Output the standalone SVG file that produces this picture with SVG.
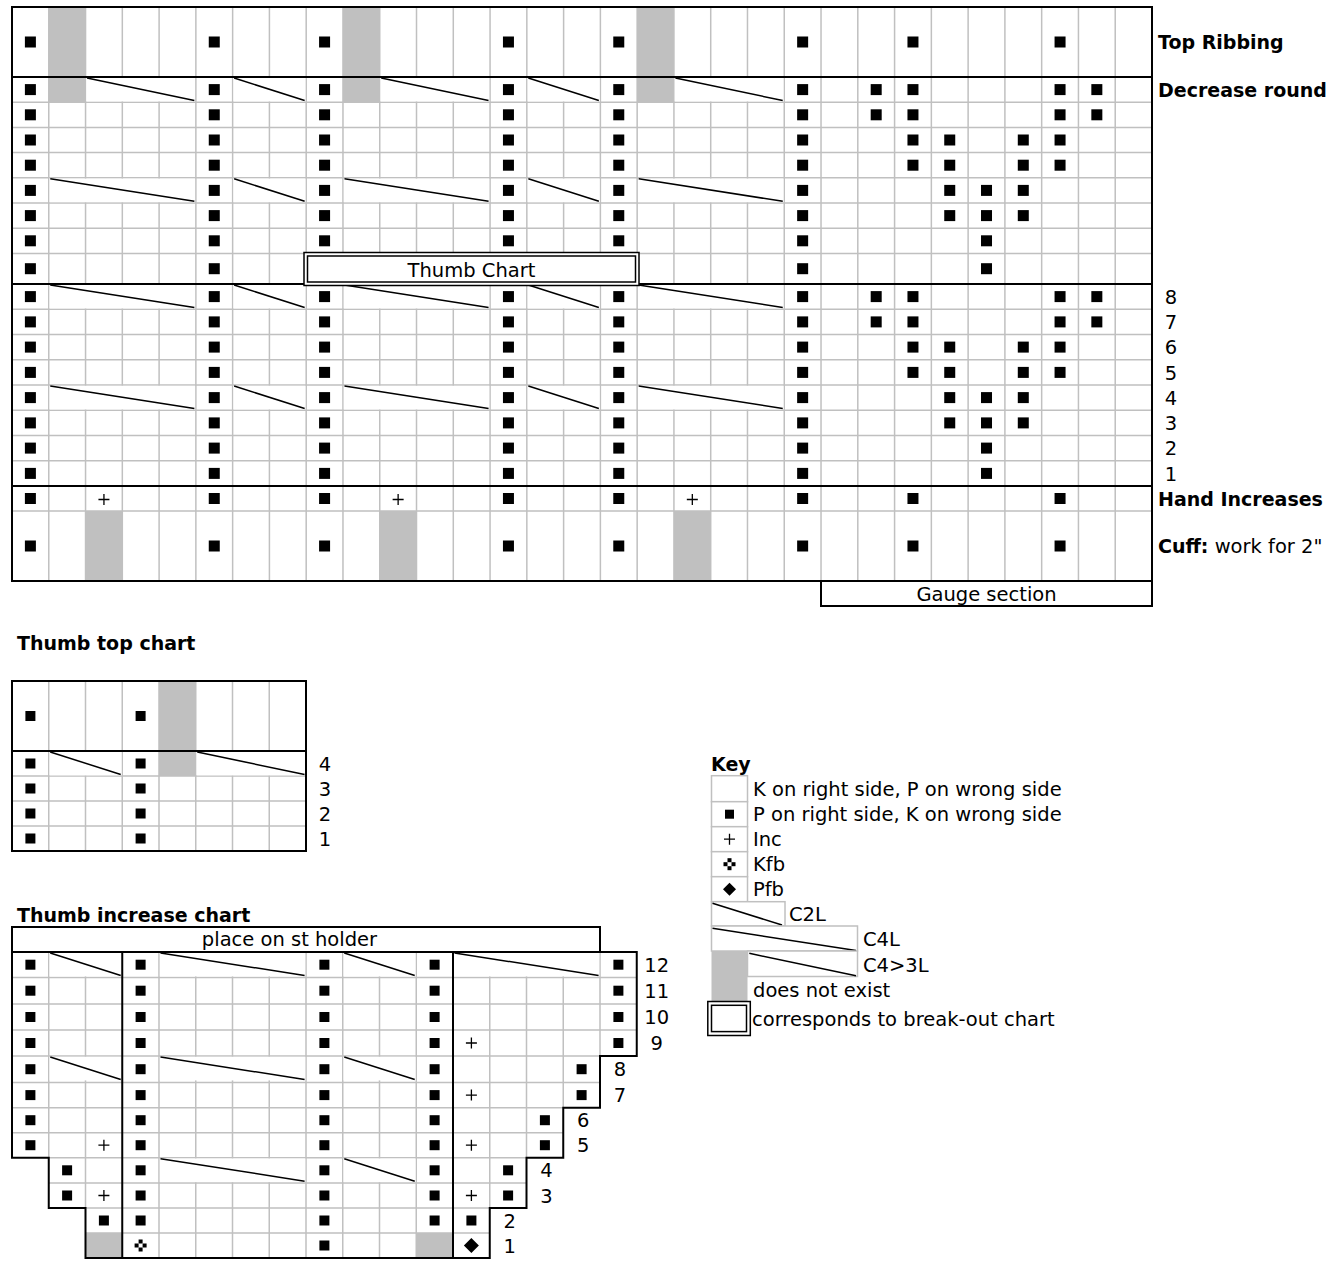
<svg xmlns="http://www.w3.org/2000/svg" width="1344" height="1272" viewBox="0 0 1344 1272">
<style>
text{font-family:"DejaVu Sans",Verdana,sans-serif;font-size:19.5px;fill:#000}
.b{font-weight:bold;font-size:19px}
.m{text-anchor:middle}
.g{stroke:#c0c0c0;stroke-width:1.5;fill:none}
.k{stroke:#000;stroke-width:2;fill:none}
.kw{stroke:#000;stroke-width:2;fill:#fff}
.bw{stroke:#000;stroke-width:1.5;fill:#fff}
.c{stroke:#000;stroke-width:1.5;fill:none}
.gr{fill:#c0c0c0}
.kb{fill:#fff;stroke:#c0c0c0;stroke-width:1.5}
</style>
<defs>
<rect id="p" x="-5.5" y="-5.5" width="11" height="11"/>
<rect id="q" x="-5" y="-5" width="10" height="10"/>
<path id="pl" d="M-5.5,0H5.5M0,-5.5V5.5" stroke="#000" stroke-width="1.3"/>
<g id="kfb"><rect x="-2" y="-6" width="4" height="4"/><rect x="-2" y="2" width="4" height="4"/><rect x="-6" y="-2" width="4" height="4"/><rect x="2" y="-2" width="4" height="4"/></g>
<path id="dia" d="M0,-7.5L7.5,0L0,7.5L-7.5,0Z"/>
<g id="c2"><rect x="0.8" y="0.8" width="71.95" height="23.6" fill="#fff"/><path d="M1.5,1L72,23.5" class="c"/></g>
<g id="c3"><rect x="0.8" y="0.8" width="108.7" height="23.6" fill="#fff"/><path d="M1.5,1L108.8,23.5" class="c"/></g>
<g id="c4"><rect x="0.8" y="0.8" width="145.5" height="23.6" fill="#fff"/><path d="M1.5,1L145.6,23.5" class="c"/></g>
<g id="pc"><use href="#p" y="42"/><use href="#p" y="89.6"/><use href="#p" y="114.8"/><use href="#p" y="140"/><use href="#p" y="165.2"/><use href="#p" y="190.4"/><use href="#p" y="215.6"/><use href="#p" y="240.8"/><use href="#p" y="268.7"/><use href="#p" y="296.6"/><use href="#p" y="321.9"/><use href="#p" y="347.1"/><use href="#p" y="372.4"/><use href="#p" y="397.6"/><use href="#p" y="422.9"/><use href="#p" y="448.1"/><use href="#p" y="473.4"/><use href="#p" y="498.5"/><use href="#p" y="546"/></g>
<g id="s23"><use href="#p" y="89.6"/><use href="#p" y="114.8"/><use href="#p" y="296.6"/><use href="#p" y="321.9"/></g>
<g id="s24"><use href="#p" y="42"/><use href="#p" y="89.6"/><use href="#p" y="114.8"/><use href="#p" y="140"/><use href="#p" y="165.2"/><use href="#p" y="296.6"/><use href="#p" y="321.9"/><use href="#p" y="347.1"/><use href="#p" y="372.4"/><use href="#p" y="498.5"/><use href="#p" y="546"/></g>
<g id="s25"><use href="#p" y="140"/><use href="#p" y="165.2"/><use href="#p" y="190.4"/><use href="#p" y="215.6"/><use href="#p" y="347.1"/><use href="#p" y="372.4"/><use href="#p" y="397.6"/><use href="#p" y="422.9"/></g>
<g id="s26"><use href="#p" y="190.4"/><use href="#p" y="215.6"/><use href="#p" y="240.8"/><use href="#p" y="268.7"/><use href="#p" y="397.6"/><use href="#p" y="422.9"/><use href="#p" y="448.1"/><use href="#p" y="473.4"/></g>
<g id="tc"><use href="#q" y="964.7"/><use href="#q" y="990.7"/><use href="#q" y="1017"/><use href="#q" y="1043"/><use href="#q" y="1069.2"/><use href="#q" y="1095.1"/><use href="#q" y="1120.2"/><use href="#q" y="1145.2"/><use href="#q" y="1170.3"/><use href="#q" y="1195.5"/><use href="#q" y="1220.5"/></g>
<g id="tt"><use href="#q" y="716"/><use href="#q" y="763.5"/><use href="#q" y="788.5"/><use href="#q" y="813.5"/><use href="#q" y="838.5"/></g>
</defs>
<rect width="1344" height="1272" fill="#fff"/>

<g id="main-chart">
<rect x="12" y="7" width="1140" height="574" fill="#fff"/>
<rect class="gr" x="48.77" y="7" width="36.78" height="95.2"/>
<rect class="gr" x="342.97" y="7" width="36.77" height="95.2"/>
<rect class="gr" x="637.16" y="7" width="36.77" height="95.2"/>
<rect class="gr" x="85.55" y="511" width="36.77" height="70"/>
<rect class="gr" x="379.74" y="511" width="36.77" height="70"/>
<rect class="gr" x="673.93" y="511" width="36.78" height="70"/>
<path class="g" d="M48.77,7V581M85.55,7V581M122.32,7V581M159.1,7V581M195.87,7V581M232.64,7V581M269.42,7V581M306.19,7V581M342.97,7V581M379.74,7V581M416.51,7V581M453.29,7V581M490.06,7V581M526.84,7V581M563.61,7V581M600.38,7V581M637.16,7V581M673.93,7V581M710.71,7V581M747.48,7V581M784.25,7V581M821.03,7V581M857.8,7V581M894.58,7V581M931.35,7V581M968.12,7V581M1004.9,7V581M1041.67,7V581M1078.45,7V581M1115.22,7V581"/>
<path class="g" d="M12,102.2H1152M12,127.4H1152M12,152.6H1152M12,177.8H1152M12,203H1152M12,228.2H1152M12,253.4H1152M12,309.25H1152M12,334.5H1152M12,359.75H1152M12,385H1152M12,410.25H1152M12,435.5H1152M12,460.75H1152M12,511H1152"/>
<use href="#c3" x="85.55" y="77"/><use href="#c2" x="232.64" y="77"/><use href="#c3" x="379.74" y="77"/><use href="#c2" x="526.84" y="77"/><use href="#c3" x="673.93" y="77"/>
<use href="#c4" x="48.77" y="177.8"/><use href="#c2" x="232.64" y="177.8"/><use href="#c4" x="342.97" y="177.8"/><use href="#c2" x="526.84" y="177.8"/><use href="#c4" x="637.16" y="177.8"/>
<use href="#c4" x="48.77" y="284"/><use href="#c2" x="232.64" y="284"/><use href="#c4" x="342.97" y="284"/><use href="#c2" x="526.84" y="284"/><use href="#c4" x="637.16" y="284"/>
<use href="#c4" x="48.77" y="385"/><use href="#c2" x="232.64" y="385"/><use href="#c4" x="342.97" y="385"/><use href="#c2" x="526.84" y="385"/><use href="#c4" x="637.16" y="385"/>
<use href="#pc" x="30.39"/><use href="#pc" x="214.26"/><use href="#pc" x="324.58"/><use href="#pc" x="508.45"/><use href="#pc" x="618.77"/><use href="#pc" x="802.64"/>
<use href="#s23" x="876.19"/><use href="#s23" x="1096.84"/>
<use href="#s24" x="912.96"/><use href="#s24" x="1060.06"/>
<use href="#s25" x="949.74"/><use href="#s25" x="1023.29"/>
<use href="#s26" x="986.51"/>
<use href="#pl" x="103.94" y="499.5"/><use href="#pl" x="398.13" y="499.5"/><use href="#pl" x="692.32" y="499.5"/>
<rect class="k" x="12" y="7" width="1140" height="574"/>
<path class="k" d="M12,77H1152M12,284H1152M12,486H1152"/>
</g>

<g id="thumb-chart-box">
<rect class="bw" x="304" y="252.5" width="335" height="33"/>
<rect class="c" x="307.5" y="256" width="328" height="26"/>
<text class="m" x="471.5" y="277">Thumb Chart</text>
</g>

<g id="gauge-section">
<rect class="kw" x="821" y="581" width="331" height="25"/>
<text class="m" x="986.5" y="600.5">Gauge section</text>
</g>

<g id="main-labels">
<text class="b" x="1158" y="49">Top Ribbing</text>
<text class="b" x="1158" y="96.6">Decrease round</text>
<text class="m" x="1171" y="303.7">8</text>
<text class="m" x="1171" y="329">7</text>
<text class="m" x="1171" y="354.2">6</text>
<text class="m" x="1171" y="379.5">5</text>
<text class="m" x="1171" y="404.7">4</text>
<text class="m" x="1171" y="430">3</text>
<text class="m" x="1171" y="455.2">2</text>
<text class="m" x="1171" y="480.5">1</text>
<text class="b" x="1158" y="505.5">Hand Increases</text>
<text x="1158" y="553"><tspan font-weight="bold" font-size="19">Cuff:</tspan> work for 2"</text>
</g>

<g id="thumb-top-chart">
<text class="b" x="17" y="650">Thumb top chart</text>
<rect x="12" y="681" width="294" height="170" fill="#fff"/>
<rect class="gr" x="159" y="681" width="36.75" height="95"/>
<path class="g" d="M48.75,681V851M85.5,681V851M122.25,681V851M159,681V851M195.75,681V851M232.5,681V851M269.25,681V851M12,776H306M12,801H306M12,826H306"/>
<use href="#c2" x="48.75" y="751"/><use href="#c3" x="195.75" y="751"/>
<use href="#tt" x="30.4"/><use href="#tt" x="140.6"/>
<rect class="k" x="12" y="681" width="294" height="170"/>
<path class="k" d="M12,751H306"/>
<text class="m" x="325" y="770.6">4</text>
<text class="m" x="325" y="795.6">3</text>
<text class="m" x="325" y="820.6">2</text>
<text class="m" x="325" y="845.6">1</text>
</g>

<g id="thumb-increase-chart">
<text class="b" x="17" y="921.5">Thumb increase chart</text>
<rect class="kw" x="12" y="927" width="588" height="25"/>
<text class="m" x="289.5" y="946">place on st holder</text>
<path fill="#fff" d="M12,952H636.75V1056H600V1107.7H563.25V1157.7H526.5V1208H489.75V1258H85.5V1208H48.75V1157.7H12Z"/>
<rect class="gr" x="85.5" y="1233" width="36.75" height="25"/>
<rect class="gr" x="416.25" y="1233" width="36.75" height="25"/>
<path class="g" d="M12,977.5H636.75M12,1004H636.75M12,1030H636.75M12,1056H600M12,1082.5H600M12,1107.7H563.25M12,1132.7H563.25M48.75,1157.7H526.5M48.75,1183H526.5M85.5,1208H489.75M85.5,1233H489.75M48.75,952V1157.7M85.5,952V1208M159,952V1258M195.75,952V1258M232.5,952V1258M269.25,952V1258M306,952V1258M342.75,952V1258M379.5,952V1258M416.25,952V1258M489.75,952V1208M526.5,952V1157.7M563.25,952V1107.7M600,952V1056"/>
<use href="#c2" x="48.75" y="952"/><use href="#c4" x="159" y="952"/><use href="#c2" x="342.75" y="952"/><use href="#c4" x="453" y="952"/>
<use href="#c2" x="48.75" y="1056"/><use href="#c4" x="159" y="1056"/><use href="#c2" x="342.75" y="1056"/>
<use href="#c4" x="159" y="1157.7"/><use href="#c2" x="342.75" y="1157.7"/>
<use href="#tc" x="140.6"/><use href="#tc" x="324.4"/><use href="#tc" x="434.6"/>
<use href="#q" x="324.4" y="1245.5"/>
<use href="#q" x="30.4" y="964.7"/><use href="#q" x="30.4" y="990.7"/><use href="#q" x="30.4" y="1017"/><use href="#q" x="30.4" y="1043"/><use href="#q" x="30.4" y="1069.2"/><use href="#q" x="30.4" y="1095.1"/><use href="#q" x="30.4" y="1120.2"/><use href="#q" x="30.4" y="1145.2"/>
<use href="#q" x="67.1" y="1170.3"/><use href="#q" x="67.1" y="1195.5"/>
<use href="#q" x="103.9" y="1220.5"/>
<use href="#q" x="618.4" y="964.7"/><use href="#q" x="618.4" y="990.7"/><use href="#q" x="618.4" y="1017"/><use href="#q" x="618.4" y="1043"/>
<use href="#q" x="581.6" y="1069.2"/><use href="#q" x="581.6" y="1095.1"/>
<use href="#q" x="544.9" y="1120.2"/><use href="#q" x="544.9" y="1145.2"/>
<use href="#q" x="508.1" y="1170.3"/><use href="#q" x="508.1" y="1195.5"/>
<use href="#q" x="471.4" y="1220.5"/>
<use href="#pl" x="103.9" y="1145.2"/><use href="#pl" x="103.9" y="1195.5"/>
<use href="#pl" x="471.4" y="1043"/><use href="#pl" x="471.4" y="1095.1"/><use href="#pl" x="471.4" y="1145.2"/><use href="#pl" x="471.4" y="1195.5"/>
<use href="#kfb" x="140.6" y="1245.5"/>
<use href="#dia" x="471.4" y="1245.5"/>
<path class="k" d="M12,952H636.75V1056H600V1107.7H563.25V1157.7H526.5V1208H489.75V1258H85.5V1208H48.75V1157.7H12Z"/>
<path class="k" d="M122.25,952V1258M453,952V1258"/>
<text class="m" x="656.75" y="971.8">12</text>
<text class="m" x="656.75" y="997.8">11</text>
<text class="m" x="656.75" y="1024.1">10</text>
<text class="m" x="656.75" y="1050.1">9</text>
<text class="m" x="620" y="1076.3">8</text>
<text class="m" x="620" y="1102.2">7</text>
<text class="m" x="583.25" y="1127.3">6</text>
<text class="m" x="583.25" y="1152.3">5</text>
<text class="m" x="546.5" y="1177.4">4</text>
<text class="m" x="546.5" y="1202.6">3</text>
<text class="m" x="509.75" y="1227.6">2</text>
<text class="m" x="509.75" y="1252.6">1</text>
</g>

<g id="key">
<text class="b" x="711" y="771">Key</text>
<rect class="kb" x="711.5" y="775.7" width="36" height="26"/>
<rect class="kb" x="711.5" y="801.7" width="36" height="25"/>
<rect class="kb" x="711.5" y="826.7" width="36" height="25"/>
<rect class="kb" x="711.5" y="851.7" width="36" height="25"/>
<rect class="kb" x="711.5" y="876.7" width="36" height="25"/>
<rect x="725" y="809.7" width="9" height="9"/>
<use href="#pl" x="729.5" y="839.2"/>
<use href="#kfb" x="729.5" y="864.2"/>
<path d="M729.5,882.7L736,889.2L729.5,895.7L723,889.2Z"/>
<rect class="kb" x="711.5" y="901.7" width="73.5" height="24.3"/>
<path class="c" d="M712.5,903.3L782,925"/>
<rect class="kb" x="711.5" y="926" width="146" height="25"/>
<path class="c" d="M712.5,928.3L856,950.5"/>
<rect class="gr" x="711.5" y="951" width="36" height="50"/>
<rect class="kb" x="747.5" y="951" width="110" height="25.5"/>
<path class="c" d="M749.3,953.3L856,975.8"/>
<rect class="bw" x="707.8" y="1001.5" width="42.5" height="34"/>
<rect class="c" x="711.5" y="1005.3" width="35" height="26.3"/>
<text x="753" y="795.7">K on right side, P on wrong side</text>
<text x="753" y="821">P on right side, K on wrong side</text>
<text x="753" y="846">Inc</text>
<text x="753" y="871">Kfb</text>
<text x="753" y="896">Pfb</text>
<text x="789" y="921">C2L</text>
<text x="863" y="946">C4L</text>
<text x="863" y="971.5">C4&gt;3L</text>
<text x="753" y="996.5">does not exist</text>
<text x="752" y="1025.5">corresponds to break-out chart</text>
</g>
</svg>
